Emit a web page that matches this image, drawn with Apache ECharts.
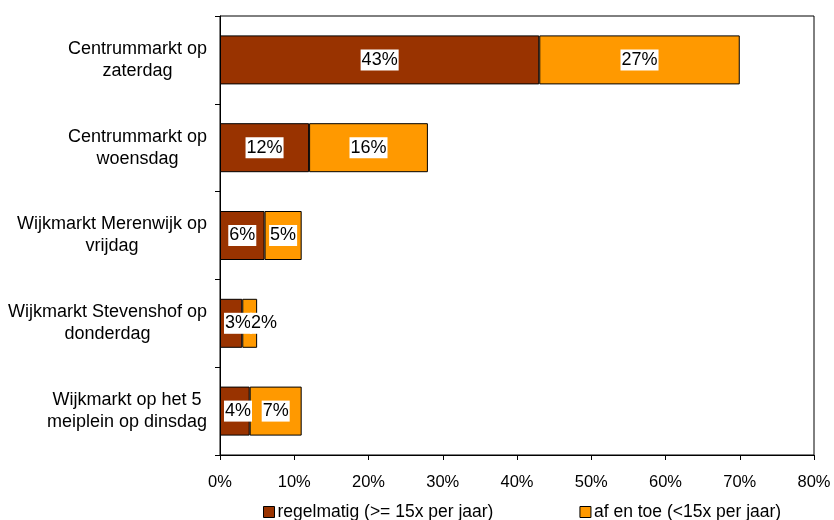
<!DOCTYPE html>
<html>
<head>
<meta charset="utf-8">
<script src="https://cdn.jsdelivr.net/npm/echarts@6/dist/echarts.min.js"></script>
<style>
  html, body { margin: 0; padding: 0; background: #fff; }
  #chart { width: 834px; height: 520px; }
</style>
</head>
<body>
<div id="chart"></div>
<script>
// Markets (top to bottom) and share of visitors per frequency group, in percent
const categories = [
  'Centrummarkt op\nzaterdag',
  'Centrummarkt op\nwoensdag',
  'Wijkmarkt Merenwijk op\nvrijdag',
  'Wijkmarkt Stevenshof op\ndonderdag',
  'Wijkmarkt op het 5\nmeiplein op dinsdag'
];
const seriesNames = ['regelmatig (>= 15x per jaar)', 'af en toe (<15x per jaar)'];
const regelmatig = [43, 12, 6, 3, 4];
const afEnToe = [27, 16, 5, 2, 7];
const xTicks = { min: 0, max: 80, step: 10 };

const FONT = 'Liberation Sans, Arial, sans-serif';
const chart = echarts.init(document.getElementById('chart'), null, { renderer: 'canvas' });

// Right edge of each first-series label, so the second label can sit next to it
const firstLabelRight = {};

const labelStyle = {
  show: true,
  position: 'inside',
  formatter: '{c}%',
  color: '#000',
  fontFamily: FONT,
  fontSize: 18,
  lineHeight: 20,
  backgroundColor: '#fff',
  padding: [1, 1, 0, 1]
};

chart.setOption({
  backgroundColor: '#fff',
  animation: false,
  textStyle: { fontFamily: FONT, color: '#000' },
  grid: {
    left: 220, right: 20, top: 16, bottom: 65,
    show: true, borderColor: '#000', borderWidth: 1, backgroundColor: 'transparent'
  },
  legend: {
    left: 263, top: 503, padding: 0,
    itemWidth: 11, itemHeight: 11, itemGap: 86,
    icon: 'rect',
    textStyle: { fontFamily: FONT, fontSize: 17.5, color: '#000', padding: [0, 0, 0, -2] },
    itemStyle: { borderColor: '#000', borderWidth: 1 },
    data: seriesNames
  },
  xAxis: {
    type: 'value',
    min: xTicks.min, max: xTicks.max, interval: xTicks.step,
    axisLine: { show: true, lineStyle: { color: '#000', width: 1 } },
    axisTick: { show: true, inside: false, length: 5, lineStyle: { color: '#000' } },
    splitLine: { show: false },
    axisLabel: { formatter: '{value}%', fontFamily: FONT, fontSize: 16.5, color: '#000', margin: 19 }
  },
  yAxis: {
    type: 'category',
    inverse: true,
    data: categories,
    axisLine: { show: true, lineStyle: { color: '#000', width: 1 } },
    axisTick: { show: true, inside: false, length: 5, lineStyle: { color: '#000' } },
    axisLabel: {
      margin: 13,
      align: 'right',
      lineHeight: 22,
      formatter: function (v) {
        return v.split('\n').map(function (s) { return '{c|' + s + '}'; }).join('\n');
      },
      rich: {
        c: { align: 'center', fontFamily: FONT, fontSize: 18, lineHeight: 22, color: '#000' }
      }
    }
  },
  series: [
    {
      name: seriesNames[0],
      type: 'bar',
      stack: 'total',
      barWidth: 49,
      data: regelmatig,
      itemStyle: { color: '#993300', borderColor: '#000', borderWidth: 1 },
      label: labelStyle,
      // keep the label inside the plot area and remember where it ends
      labelLayout: function (p) {
        const minX = p.rect.x + 4;
        const dx = p.labelRect.x < minX ? minX - p.labelRect.x : 0;
        firstLabelRight[p.dataIndex] = p.labelRect.x + dx + p.labelRect.width;
        return { dx: dx };
      }
    },
    {
      name: seriesNames[1],
      type: 'bar',
      stack: 'total',
      barWidth: 49,
      data: afEnToe,
      itemStyle: { color: '#FF9900', borderColor: '#000', borderWidth: 1 },
      label: labelStyle,
      // push the label right when it would cover the neighbouring one
      labelLayout: function (p) {
        const prev = firstLabelRight[p.dataIndex];
        const dx = prev != null && p.labelRect.x < prev - 2 ? prev - 2 - p.labelRect.x : 0;
        return { dx: dx };
      }
    }
  ]
});
</script>
</body>
</html>
